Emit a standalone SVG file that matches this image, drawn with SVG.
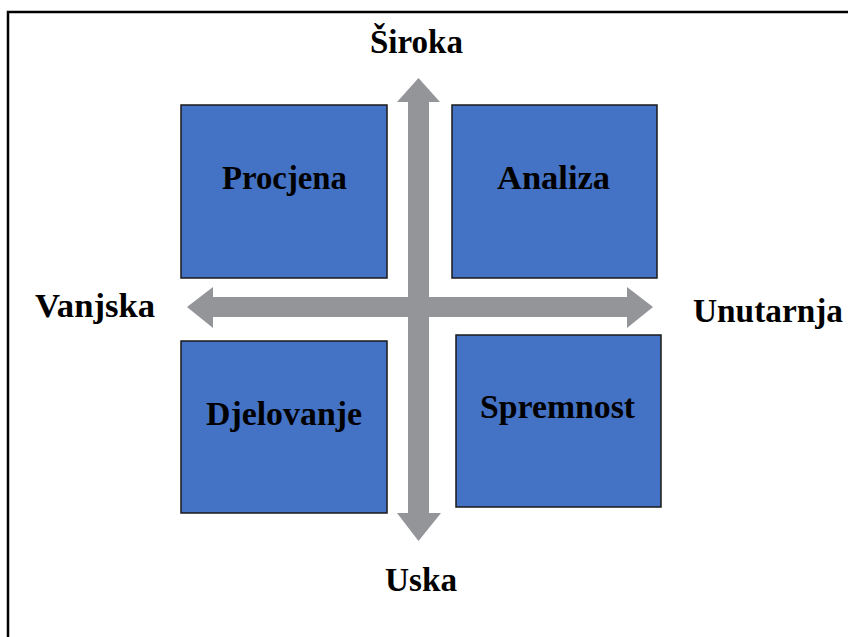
<svg xmlns="http://www.w3.org/2000/svg" width="848" height="637" viewBox="0 0 848 637">
<style>
.box{fill:#4472C4;stroke:#1a1a1a;stroke-width:1.5}
.lbl{font-family:"Liberation Serif","Times New Roman",serif;font-weight:bold;font-size:33px;fill:#000;text-anchor:start}
.arr{fill:#939598}
.frame{stroke:#000;stroke-width:2.5;fill:none}
</style>
<rect width="848" height="637" fill="#fff"/>
<path class="frame" d="M8,637 V12 H848"/>
<g id="connectors">
<polygon class="arr" points="187,307 213,287 213,297 627,297 627,287 653,307 627,328 627,317 213,317 213,328"/>
<polygon class="arr" points="418.5,78 440,102 429,102 429,513 441,513 418.5,541 397,513 408,513 408,102 397,102"/>
</g>
<g id="n-procjena"><rect class="box" x="181" y="105" width="206" height="173"/><text class="lbl" x="222" y="189" textLength="125" lengthAdjust="spacingAndGlyphs">Procjena</text></g>
<g id="n-analiza"><rect class="box" x="452" y="105" width="205" height="173"/><text class="lbl" x="497" y="189" textLength="113" lengthAdjust="spacingAndGlyphs">Analiza</text></g>
<g id="n-djelovanje"><rect class="box" x="181" y="341" width="206" height="172"/><text class="lbl" x="206" y="425" textLength="156" lengthAdjust="spacingAndGlyphs">Djelovanje</text></g>
<g id="n-spremnost"><rect class="box" x="456" y="335" width="205" height="172"/><text class="lbl" x="480" y="418" textLength="155" lengthAdjust="spacingAndGlyphs">Spremnost</text></g>
<g id="n-siroka"><text class="lbl" x="370" y="53" textLength="93" lengthAdjust="spacingAndGlyphs">Široka</text></g>
<g id="n-uska"><text class="lbl" x="385" y="591" textLength="72" lengthAdjust="spacingAndGlyphs">Uska</text></g>
<g id="n-vanjska"><text class="lbl" x="35" y="317" textLength="120" lengthAdjust="spacingAndGlyphs">Vanjska</text></g>
<g id="n-unutarnja"><text class="lbl" x="693" y="322" textLength="150" lengthAdjust="spacingAndGlyphs">Unutarnja</text></g>
</svg>
